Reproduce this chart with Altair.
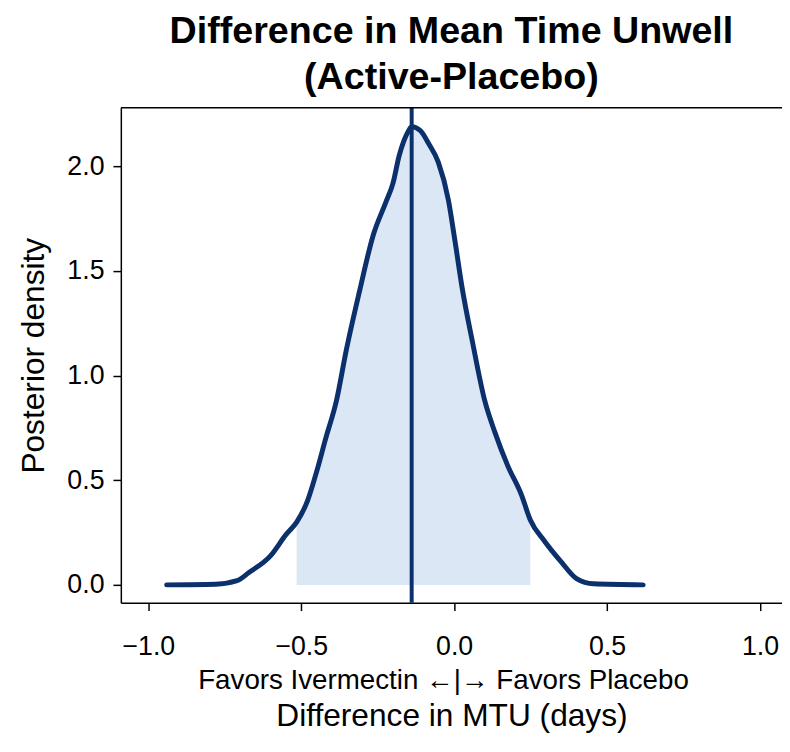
import altair as alt
import pandas as pd

# Posterior density curve
diff_days = [-0.94, -0.78, -0.71, -0.67, -0.60, -0.55, -0.515, -0.48, -0.45, -0.42,
             -0.385, -0.353, -0.31, -0.265, -0.223, -0.20, -0.18, -0.149, -0.139,
             -0.11, -0.084, -0.052, -0.019, 0.003, 0.026, 0.06, 0.10, 0.133, 0.175,
             0.22, 0.249, 0.295, 0.35, 0.40, 0.456, 0.618]
density = [0.0, 0.003, 0.02, 0.06, 0.14, 0.24, 0.30, 0.40, 0.54, 0.70,
           0.88, 1.12, 1.40, 1.67, 1.83, 1.92, 2.05, 2.17, 2.19,
           2.17, 2.11, 2.02, 1.84, 1.64, 1.42, 1.16, 0.88, 0.73, 0.57,
           0.43, 0.31, 0.21, 0.11, 0.03, 0.005, 0.0]

interval_low = -0.515
interval_high = 0.249
posterior_median = -0.139

x_ticks = [-1.0, -0.5, 0.0, 0.5, 1.0]
y_ticks = [0.0, 0.5, 1.0, 1.5, 2.0]

title_lines = ["Difference in Mean Time Unwell", "(Active-Placebo)"]
favors_text = "Favors Ivermectin \u2190|\u2192 Favors Placebo"
x_title = "Difference in MTU (days)"
y_title = "Posterior density"

df = pd.DataFrame({"x": diff_days, "d": density})
med = pd.DataFrame({"x": [posterior_median]})
fav = pd.DataFrame({"t": [favors_text]})

W, H = 668, 500
FONT = "Liberation Sans"
NAVY = "#0b306b"
xdom = [-1.09, 1.072]
ydom = [-0.085, 2.28]

xscale = alt.Scale(domain=xdom, nice=False, zero=False)
yscale = alt.Scale(domain=ydom, nice=False, zero=False)

xaxis = alt.Axis(values=x_ticks, format=".1f", title=x_title,
                 titlePadding=42, titleFontSize=32, labelPadding=23)
yaxis = alt.Axis(values=y_ticks, format=".1f", title=y_title,
                 titlePadding=17, titleFontSize=32, labelPadding=9)

area = alt.Chart(df).transform_filter(
    (alt.datum.x >= interval_low) & (alt.datum.x <= interval_high)
).mark_area(color="#dbe7f4", interpolate="monotone").encode(
    x=alt.X("x:Q", scale=xscale, axis=xaxis),
    y=alt.Y("d:Q", scale=yscale, axis=yaxis),
)

line = alt.Chart(df).mark_line(color=NAVY, strokeWidth=5, interpolate="monotone",
                               strokeCap="round").encode(
    x=alt.X("x:Q", scale=xscale, axis=xaxis),
    y=alt.Y("d:Q", scale=yscale, axis=yaxis),
)

rule = alt.Chart(med).mark_rule(color=NAVY, strokeWidth=4).encode(
    x=alt.X("x:Q", scale=xscale, axis=xaxis),
)

top_border = alt.Chart(med).mark_rule(color="black", strokeWidth=1.5).encode(
    y=alt.value(0), x=alt.value(0), x2=alt.value(W)
)

favors = alt.Chart(fav).mark_text(fontSize=28, font=FONT, color="black",
                                  align="center", baseline="middle").encode(
    text="t:N", x=alt.value(326), y=alt.value(579)
)

chart = alt.layer(area, line, rule, top_border, favors).properties(
    width=W, height=H,
    title=alt.TitleParams(title_lines, fontSize=38, fontWeight="bold", font=FONT,
                          lineHeight=46, anchor="middle", offset=9, color="black"),
    autosize=alt.AutoSizeParams(type="none"),
    padding={"left": 114, "top": 97, "right": 0, "bottom": 140},
).configure(font=FONT).configure_view(stroke=None).configure_axis(
    grid=False, labelFontSize=27, tickSize=8, tickColor="black",
    domainColor="black", labelColor="black", titleColor="black", tickWidth=1.5,
    domainWidth=1.5, titleFontWeight="normal", labelFont=FONT, titleFont=FONT,
)

chart.save("out.html", embed_options={"renderer": "svg", "actions": False})
